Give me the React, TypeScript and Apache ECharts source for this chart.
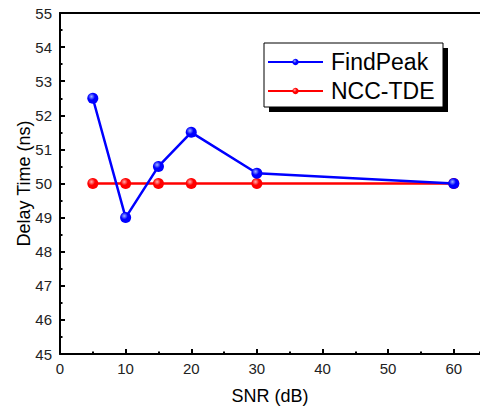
import React, { useEffect, useRef } from "react";
import * as echarts from "echarts";

const snr = [5, 10, 15, 20, 30, 60];
const findPeak = [52.5, 49, 50.5, 51.5, 50.3, 50];
const nccTde = [50, 50, 50, 50, 50, 50];
const seriesNames = ["FindPeak", "NCC-TDE"];

const ball = (c: string, light: string) => ({
  type: "radial",
  x: 0.38,
  y: 0.35,
  r: 0.7,
  colorStops: [
    { offset: 0, color: light },
    { offset: 0.45, color: c },
    { offset: 1, color: c },
  ],
});

export default function App() {
  const ref = useRef<HTMLDivElement>(null);
  useEffect(() => {
    const chart = echarts.init(ref.current!, undefined, { renderer: "svg" });
    const font = "Liberation Sans, Arial, sans-serif";
    chart.setOption({
      animation: false,
      grid: {
        left: 60,
        top: 13,
        bottom: 54,
        right: 0,
      },
      graphic: [
        { type: "rect", shape: { x: 269, y: 48, width: 179, height: 64 }, style: { fill: "#000" }, z: 10 },
        { type: "rect", shape: { x: 264, y: 43, width: 179, height: 64 }, style: { fill: "#fff", stroke: "#000", lineWidth: 1 }, z: 11 },
      ],
      legend: {
        data: seriesNames,
        orient: "vertical",
        left: 267,
        top: 50,
        padding: 0,
        itemWidth: 55,
        itemHeight: 8,
        itemGap: 5,
        z: 20,
        textStyle: { fontSize: 23, fontFamily: font, color: "#000", lineHeight: 24, padding: [0, 0, 0, 3] },
      },
      xAxis: [
        {
          type: "value",
          min: 0,
          max: 64,
          interval: 10,
          position: "bottom",
          name: "SNR (dB)",
          nameLocation: "middle",
          nameGap: 33,
          nameMoveOverlap: false,
          nameTextStyle: { fontSize: 18, fontFamily: font, color: "#000" },
          axisLine: { show: true, lineStyle: { color: "#000", width: 2 } },
          axisTick: { show: true, inside: true, length: 5, lineStyle: { color: "#000", width: 2 } },
          axisLabel: { fontSize: 15, fontFamily: font, color: "#222", margin: 7, showMaxLabel: false },
          splitLine: { show: false },
        },
        {
          type: "value",
          min: 0,
          max: 64,
          interval: 5,
          position: "bottom",
          axisLine: { show: false },
          axisTick: { show: true, inside: true, length: 2.5, lineStyle: { color: "#000", width: 2 } },
          axisLabel: { show: false },
          splitLine: { show: false },
        },
        {
          type: "value",
          min: 0,
          max: 64,
          position: "top",
          axisLine: { show: true, lineStyle: { color: "#000", width: 2 } },
          axisTick: { show: false },
          axisLabel: { show: false },
          splitLine: { show: false },
        },
      ],
      yAxis: {
        type: "value",
        min: 45,
        max: 55,
        interval: 1,
        name: "Delay Time (ns)",
        nameLocation: "middle",
        nameGap: 27,
        nameMoveOverlap: false,
        nameTextStyle: { fontSize: 18, fontFamily: font, color: "#000" },
        axisLine: { show: true, lineStyle: { color: "#000", width: 2 } },
        axisTick: { show: true, inside: true, length: 5, lineStyle: { color: "#000", width: 2 } },
        minorTick: { show: true, splitNumber: 2, length: 2.5, lineStyle: { color: "#000", width: 2 } },
        axisLabel: { fontSize: 15, fontFamily: font, color: "#222", margin: 8 },
        splitLine: { show: false },
      },
      series: [
        {
          name: seriesNames[0],
          type: "line",
          xAxisIndex: 0,
          data: snr.map((x, i) => [x, findPeak[i]]),
          symbol: "circle",
          symbolSize: 11,
          lineStyle: { color: "#0000ff", width: 2.5 },
          itemStyle: { color: ball("#0000ff", "#9db4ff") },
          z: 3,
        },
        {
          name: seriesNames[1],
          type: "line",
          xAxisIndex: 0,
          data: snr.map((x, i) => [x, nccTde[i]]),
          symbol: "circle",
          symbolSize: 11,
          lineStyle: { color: "#ff0000", width: 2.5 },
          itemStyle: { color: ball("#ff0000", "#ffb0b0") },
          z: 2,
        },
      ],
    });
    return () => chart.dispose();
  }, []);
  return <div ref={ref} style={{ position: "absolute", left: 0, top: 0, width: 480, height: 410 }} />;
}
